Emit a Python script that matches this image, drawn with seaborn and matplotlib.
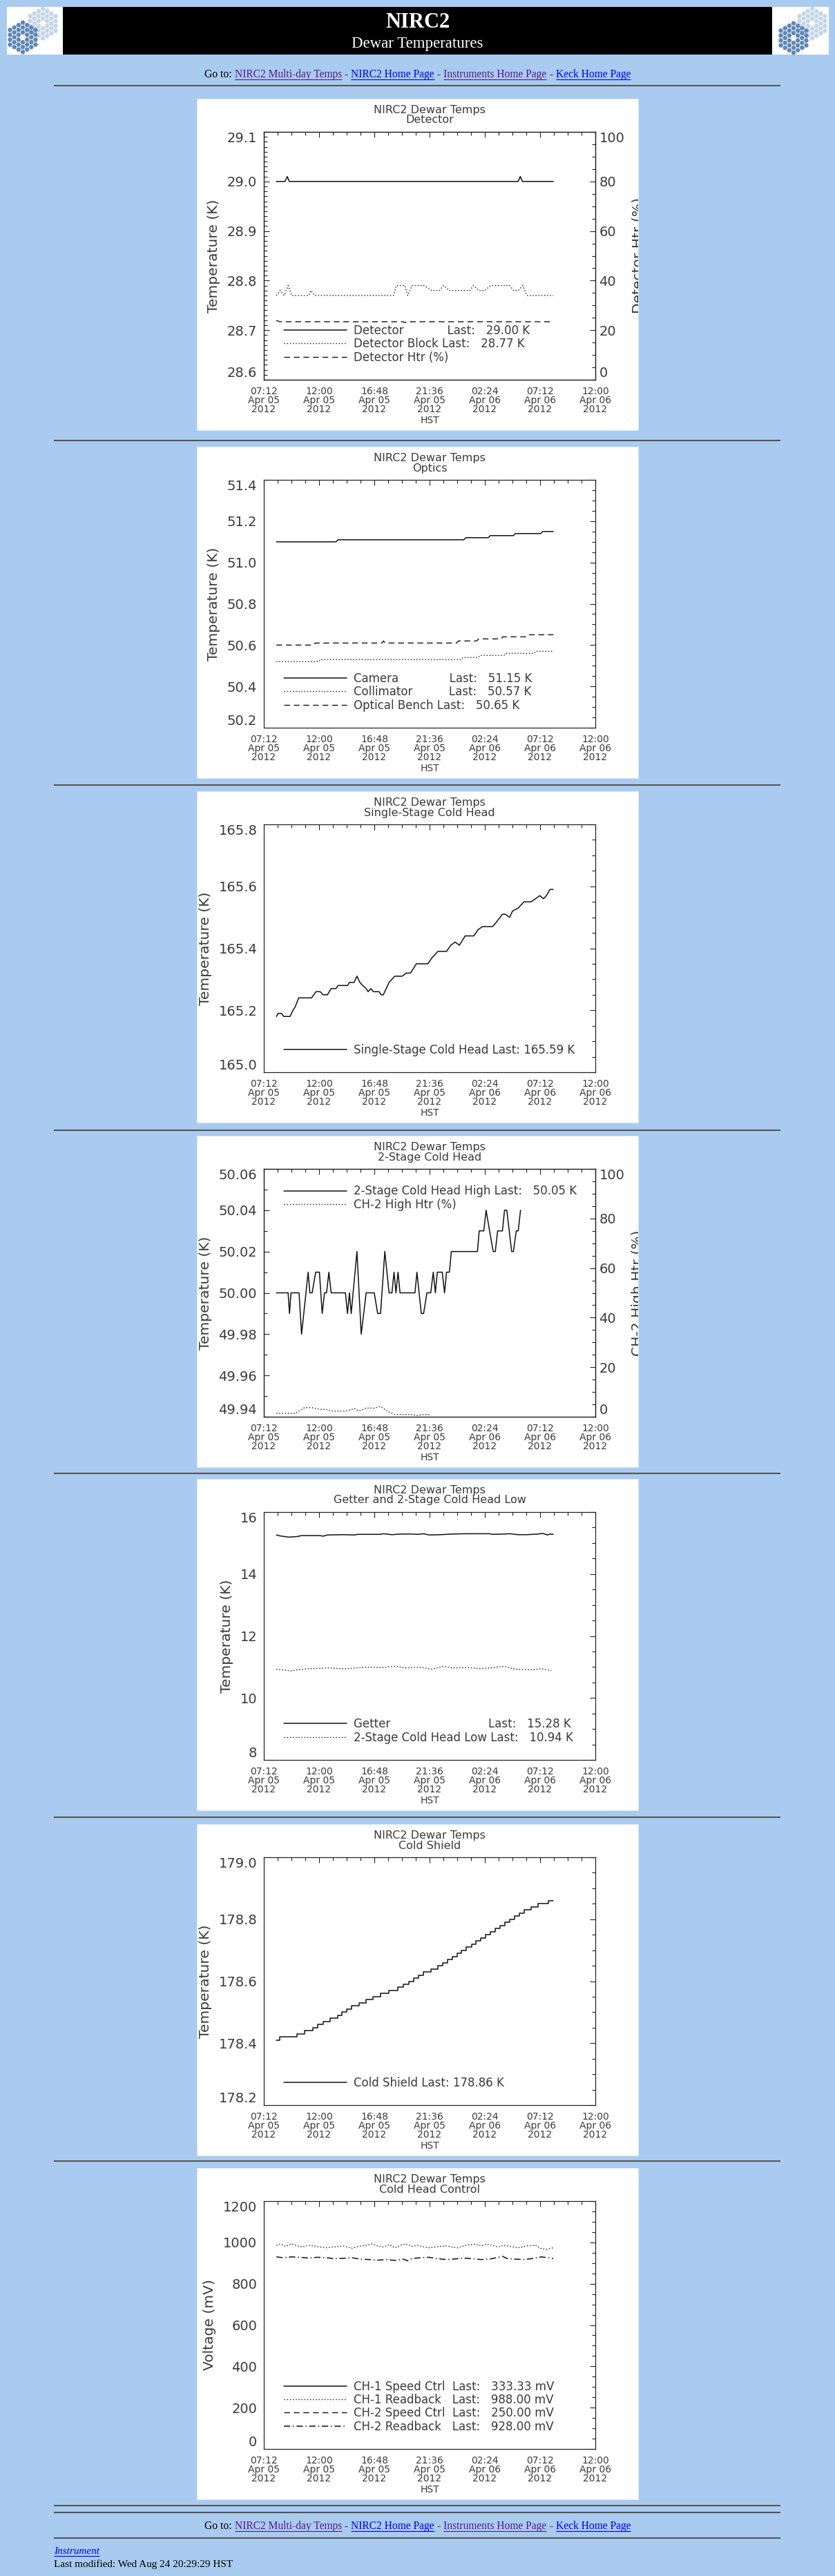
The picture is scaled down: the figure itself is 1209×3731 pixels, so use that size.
import numpy as np
import pandas as pd
import matplotlib
matplotlib.use("Agg")
import matplotlib.pyplot as plt
from matplotlib.ticker import MultipleLocator
from matplotlib.patches import Rectangle, RegularPolygon
from matplotlib.lines import Line2D
from matplotlib.transforms import Bbox, TransformedBbox
import seaborn as sns

# ---------------------------------------------------------------- page / axis definitions
W, H = 1209, 3731
PAGE_BG = "#A9CBEF"
TEXT = "#3a3a3a"
LINE = "#111111"
PURPLE = "#551A8B"
BLUE = "#0000EE"
SERIF = "Liberation Serif"

T0 = pd.Timestamp("2012-04-05 07:12")
X_START = pd.Timestamp("2012-04-05 07:12")
X_END = pd.Timestamp("2012-04-06 12:00")
X_MAJOR = pd.date_range(X_START, X_END, freq="288min")
X_MINOR = pd.date_range(X_START, X_END, freq="72min")
X_TICK_LABELS = ["07:12\nApr 05\n2012", "12:00\nApr 05\n2012", "16:48\nApr 05\n2012",
                 "21:36\nApr 05\n2012", "02:24\nApr 06\n2012", "07:12\nApr 06\n2012",
                 "12:00\nApr 06\n2012"]

# ---------------------------------------------------------------- data (hours after 07:12 Apr 05)
DET_T = [1.09, 1.85, 2.03, 2.21, 22.10, 22.28, 22.46, 25.15]
DET_V = [29.00, 29.00, 29.01, 29.00, 29.00, 29.01, 29.00, 29.00]
BLOCK_T = [1.09, 1.41, 1.78, 2.11, 2.41, 3.90, 4.08, 4.40, 11.26, 11.51, 12.25, 12.50, 12.88,
           13.90, 14.60, 15.25, 15.62, 16.10, 17.90, 18.20, 18.70, 19.20, 19.70, 21.35, 21.70,
           22.10, 22.50, 22.85, 25.15]
BLOCK_V = [28.77, 28.78, 28.77, 28.79, 28.77, 28.77, 28.78, 28.77, 28.77, 28.79, 28.79, 28.77,
           28.79, 28.79, 28.78, 28.78, 28.79, 28.78, 28.78, 28.79, 28.78, 28.78, 28.79, 28.79,
           28.78, 28.78, 28.79, 28.77, 28.77]
DHTR_T = [1.09, 1.40, 1.70, 12.10, 12.25, 12.40, 25.15]
DHTR_V = [23.9, 23.4, 23.4, 23.4, 23.0, 23.4, 23.4]

CAM_T = [1.09, 6.27, 6.45, 17.37, 17.55, 19.49, 19.67, 21.68, 21.86, 24.05, 24.23, 25.15]
CAM_V = [51.10, 51.10, 51.11, 51.11, 51.12, 51.12, 51.13, 51.13, 51.14, 51.14, 51.15, 51.15]
COL_T = [1.09, 4.78, 4.95, 17.12, 17.30, 18.61, 18.78, 20.86, 21.03, 23.47, 23.64, 25.15]
COL_V = [50.52, 50.52, 50.53, 50.53, 50.54, 50.54, 50.55, 50.55, 50.56, 50.56, 50.57, 50.57]
BENCH_T = [1.09, 4.28, 4.45, 10.26, 10.40, 10.55, 16.74, 16.90, 18.49, 18.66, 20.61, 20.78,
           22.73, 22.90, 25.15]
BENCH_V = [50.60, 50.60, 50.61, 50.61, 50.62, 50.61, 50.61, 50.62, 50.62, 50.63, 50.63, 50.64,
           50.64, 50.65, 50.65]

SS_T = [1.09, 1.24, 1.53, 1.73, 2.28, 2.53, 2.71, 3.03, 4.15, 4.53, 4.90, 5.15, 5.52, 5.85, 6.27,
        6.45, 7.27, 7.44, 7.84, 8.09, 8.34, 8.59, 8.89, 9.06, 9.31, 9.51, 10.01, 10.19, 10.38,
        10.63, 10.88, 11.13, 11.38, 12.01, 12.38, 12.75, 13.25, 14.25, 14.62, 15.12, 15.87,
        16.24, 16.62, 16.99, 17.49, 18.24, 18.61, 18.99, 19.86, 20.11, 20.73, 20.98, 21.35,
        21.60, 22.10, 22.60, 23.22, 23.60, 23.97, 24.30, 24.55, 24.85, 25.14]
SS_V = [165.18, 165.19, 165.19, 165.18, 165.18, 165.20, 165.21, 165.24, 165.24, 165.26, 165.26,
        165.25, 165.25, 165.27, 165.27, 165.28, 165.28, 165.29, 165.29, 165.31, 165.29, 165.28,
        165.27, 165.26, 165.27, 165.26, 165.26, 165.25, 165.25, 165.27, 165.29, 165.30, 165.31,
        165.31, 165.32, 165.32, 165.35, 165.35, 165.37, 165.39, 165.39, 165.41, 165.42, 165.41,
        165.44, 165.44, 165.46, 165.47, 165.47, 165.48, 165.51, 165.51, 165.50, 165.52, 165.53,
        165.55, 165.55, 165.56, 165.57, 165.56, 165.57, 165.59, 165.59]

CH2_T = [1.09, 2.11, 2.23, 2.36, 3.06, 3.28, 3.85, 4.00, 4.20, 4.50, 4.83, 5.07, 5.27, 5.45,
         5.65, 5.85, 7.09, 7.27, 7.44, 7.59, 8.09, 8.46, 8.89, 9.59, 9.89, 10.14, 10.51, 10.88,
         11.13, 11.31, 11.48, 11.66, 11.83, 13.13, 13.30, 13.68, 13.88, 14.17, 14.50, 14.72,
         14.90, 15.07, 15.50, 15.70, 15.87, 16.12, 16.29, 18.56, 18.71, 19.11, 19.31, 19.61,
         19.93, 20.11, 20.31, 20.73, 20.91, 21.11, 21.53, 21.68, 21.93, 22.10, 22.30]
CH2_V = [50.00, 50.00, 49.99, 50.00, 50.00, 49.98, 50.01, 50.00, 50.00, 50.01, 50.01, 49.99,
         50.00, 50.00, 50.01, 50.00, 50.00, 49.99, 50.00, 49.99, 50.02, 49.98, 50.00, 50.00,
         49.99, 49.99, 50.02, 50.00, 50.00, 50.01, 50.00, 50.01, 50.00, 50.00, 50.01, 49.99,
         49.99, 50.00, 50.00, 50.01, 50.00, 50.01, 50.01, 50.00, 50.01, 50.01, 50.02, 50.02,
         50.03, 50.03, 50.04, 50.03, 50.02, 50.02, 50.03, 50.03, 50.04, 50.04, 50.02, 50.02,
         50.03, 50.03, 50.04]
CH2HTR_T = [1.09, 2.78, 3.53, 4.15, 4.90, 5.40, 5.90, 7.14, 7.89, 8.27, 8.89, 9.64, 10.09,
            10.88, 11.38, 12.88, 13.25, 13.88, 14.50]
CH2HTR_V = [1.4, 1.4, 3.7, 3.7, 3.0, 3.0, 2.3, 2.3, 3.3, 2.3, 3.5, 3.5, 4.2, 1.9, 0.9, 0.9,
            0.5, 0.9, 0.9]

GET_T = [1.09, 1.41, 2.16, 2.91, 3.28, 4.90, 5.15, 5.52, 6.89, 7.89, 8.14, 10.14, 10.38, 11.13,
         11.88, 12.88, 13.38, 13.88, 14.37, 15.37, 16.37, 17.61, 19.61, 19.86, 20.86, 21.35,
         22.10, 22.85, 23.85, 24.22, 24.65, 24.85, 25.14]
GET_V = [15.26, 15.23, 15.19, 15.21, 15.24, 15.24, 15.22, 15.26, 15.27, 15.26, 15.28, 15.28,
         15.30, 15.27, 15.29, 15.29, 15.28, 15.30, 15.26, 15.27, 15.29, 15.30, 15.30, 15.28,
         15.29, 15.30, 15.27, 15.27, 15.29, 15.31, 15.26, 15.29, 15.28]
LOW_T = [1.09, 2.41, 2.91, 3.90, 5.65, 6.89, 8.89, 10.14, 11.38, 12.38, 13.63, 14.62, 15.62,
         16.37, 17.86, 18.86, 20.86, 21.85, 23.35, 24.10, 24.97]
LOW_V = [10.93, 10.87, 10.91, 10.94, 10.97, 10.94, 10.99, 10.98, 11.02, 10.97, 10.99, 10.93,
         11.02, 10.97, 10.98, 10.94, 11.02, 10.93, 10.91, 10.94, 10.89]

CS_T = [1.09, 1.41, 2.91, 3.53, 4.28, 4.70, 5.15, 5.77, 6.40, 6.77, 7.19, 7.64, 8.27, 8.89, 9.51,
        10.14, 10.88, 11.63, 12.13, 12.63, 13.05, 13.45, 13.88, 14.50, 15.12, 15.55, 15.94,
        16.37, 16.79, 17.19, 17.61, 18.04, 18.44, 18.86, 19.29, 19.68, 20.11, 20.53, 20.93,
        21.35, 21.78, 22.18, 22.60, 23.22, 23.85, 24.72, 25.14]
CS_V = [178.41, 178.42, 178.43, 178.44, 178.45, 178.46, 178.47, 178.48, 178.49, 178.50, 178.51,
        178.52, 178.53, 178.54, 178.55, 178.56, 178.57, 178.58, 178.59, 178.60, 178.61, 178.62,
        178.63, 178.64, 178.65, 178.66, 178.67, 178.68, 178.69, 178.70, 178.71, 178.72, 178.73,
        178.74, 178.75, 178.76, 178.77, 178.78, 178.79, 178.80, 178.81, 178.82, 178.83, 178.84,
        178.85, 178.86, 178.86]

RB1_T = [1.09, 1.41, 1.91, 2.41, 2.91, 3.40, 3.90, 4.65, 5.40, 6.15, 6.89, 7.64, 8.27, 8.89,
         9.39, 9.89, 10.38, 10.88, 11.38, 11.88, 12.38, 12.88, 13.38, 13.88, 14.37, 15.12,
         15.87, 16.37, 16.87, 17.37, 17.86, 18.36, 18.86, 19.36, 19.86, 20.36, 20.86, 21.35,
         22.10, 22.85, 23.60, 24.10, 24.60, 25.14]
RB1_V = [986, 992, 981, 994, 983, 978, 986, 980, 974, 978, 983, 972, 981, 986, 992, 983, 978,
         989, 974, 986, 992, 981, 986, 978, 974, 980, 983, 977, 974, 983, 989, 992, 983, 992,
         986, 978, 986, 981, 974, 983, 986, 970, 967, 974]
RB2_T = [1.09, 1.66, 2.41, 3.16, 3.90, 4.65, 5.40, 6.15, 6.89, 7.64, 8.39, 9.14, 9.89, 10.63,
         11.38, 12.13, 12.50, 12.88, 13.63, 14.37, 15.12, 15.87, 16.62, 17.37, 18.11, 18.86,
         19.61, 20.36, 20.73, 21.11, 21.85, 22.60, 23.35, 24.10, 24.60, 25.14]
RB2_V = [930, 926, 930, 928, 924, 928, 926, 921, 923, 926, 919, 917, 914, 917, 913, 919, 911,
         922, 926, 928, 921, 917, 920, 924, 921, 917, 919, 928, 933, 922, 919, 917, 922, 930,
         926, 922]

P1_YT = [28.6, 28.7, 28.8, 28.9, 29.0, 29.1]
P1_YL = ["28.6", "28.7", "28.8", "28.9", "29.0", "29.1"]
P2_YT = [50.2, 50.4, 50.6, 50.8, 51.0, 51.2, 51.4]
P2_YL = ["50.2", "50.4", "50.6", "50.8", "51.0", "51.2", "51.4"]
P3_YT = [165.0, 165.2, 165.4, 165.6, 165.8]
P3_YL = ["165.0", "165.2", "165.4", "165.6", "165.8"]
P4_YT = [49.94, 49.96, 49.98, 50.00, 50.02, 50.04, 50.06]
P4_YL = ["49.94", "49.96", "49.98", "50.00", "50.02", "50.04", "50.06"]
P5_YT = [8, 10, 12, 14, 16]
P5_YL = ["8", "10", "12", "14", "16"]
P6_YT = [178.2, 178.4, 178.6, 178.8, 179.0]
P6_YL = ["178.2", "178.4", "178.6", "178.8", "179.0"]
P7_YT = [0, 200, 400, 600, 800, 1000, 1200]
P7_YL = ["0", "200", "400", "600", "800", "1000", "1200"]
PCT_YT = [0, 20, 40, 60, 80, 100]
PCT_YL = ["0", "20", "40", "60", "80", "100"]

# ---------------------------------------------------------------- style
sns.set_theme(style="white", rc={
    "axes.edgecolor": "#222222", "axes.linewidth": 0.9,
    "xtick.direction": "in", "ytick.direction": "in",
    "xtick.color": "#222222", "ytick.color": "#222222",
})
plt.rcParams["font.family"] = ["DejaVu Sans"]

LS = {"solid": "-", "dotted": (0, (1.0, 2.0)), "dashed": (0, (6.0, 4.0)),
      "dashdot": (0, (6.0, 2.5, 1.0, 2.5))}
LW = {"solid": 1.1, "dotted": 1.0, "dashed": 1.0, "dashdot": 1.1}

fig = plt.figure(figsize=(W / 100, H / 100), dpi=100, facecolor=PAGE_BG)
bg = fig.add_axes([0, 0, 1, 1], zorder=0)
bg.set_xlim(0, W)
bg.set_ylim(H, 0)
bg.axis("off")

# ---------------------------------------------------------------- header
bg.add_patch(Rectangle((91, 10), 1027, 69, facecolor="black", edgecolor="none", zorder=1))
bg.text(604.5, 33, "NIRC2", ha="center", va="center", color="white", fontsize=22,
        family=SERIF, weight="bold", zorder=3)
bg.text(604.5, 63, "Dewar Temperatures", ha="center", va="center", color="white",
        fontsize=16.5, family=SERIF, zorder=3)

DARK = "#5F87B5"
LIGHT = "#C4D4E9"


def draw_logo(x0, w, centers):
    box = Rectangle((x0, 10), w, 69, facecolor="white", edgecolor="none", zorder=1)
    bg.add_patch(box)
    R = 4.1
    for cx, cy, col in centers:
        for q in range(-3, 4):
            for r in range(-3, 4):
                ring = max(abs(q), abs(r), abs(q + r))
                if ring == 0 or ring > 3:
                    continue
                hx = cx + R * 1.5 * q
                hy = cy + R * np.sqrt(3) * (r + q / 2)
                p = RegularPolygon((hx, hy), 6, radius=R * 0.86, orientation=np.pi / 6,
                                   facecolor=col, edgecolor="none", zorder=2)
                p.set_clip_path(box)
                bg.add_patch(p)


draw_logo(10, 81, [(62, 34, LIGHT), (33, 54, DARK)])
draw_logo(1118, 82, [(1176, 34, LIGHT), (1149, 55, DARK)])

renderer = fig.canvas.get_renderer()


def link_line(y_base, fs=11.2):
    pieces = [("Go to:", "black", False), ("NIRC2 Multi-day Temps", PURPLE, True),
              ("-", "black", False), ("NIRC2 Home Page", BLUE, True), ("-", "black", False),
              ("Instruments Home Page", PURPLE, True), ("-", "black", False),
              ("Keck Home Page", BLUE, True)]
    texts, widths = [], []
    for s, c, u in pieces:
        t = bg.text(0, y_base, s, color=c, fontsize=fs, family=SERIF, ha="left",
                    va="baseline", zorder=3)
        widths.append(t.get_window_extent(renderer=renderer).width)
        texts.append(t)
    gap = fs * 100 / 72 * 0.27
    total = sum(widths) + gap * (len(pieces) - 1)
    x = W / 2 - total / 2
    for t, w, (s, c, u) in zip(texts, widths, pieces):
        t.set_x(x)
        if u:
            bg.plot([x, x + w], [y_base + 2.5, y_base + 2.5], color=c, lw=0.8,
                    solid_capstyle="butt", zorder=3)
        x += w + gap


link_line(112)

for yy in [124, 638, 1137, 1637, 2134, 2632, 3130, 3629, 3639, 3676]:
    bg.plot([78, 1130], [yy, yy], color="#555555", lw=1.5, solid_capstyle="butt", zorder=1)

link_line(3663)
tI = bg.text(78, 3699, "Instrument", color=BLUE, fontsize=11, family=SERIF, style="italic",
             ha="left", va="baseline", zorder=3)
wI = tI.get_window_extent(renderer=renderer).width
bg.plot([78, 78 + wI], [3702, 3702], color=BLUE, lw=0.8, solid_capstyle="butt", zorder=3)
bg.text(78, 3718, "Last modified: Wed Aug 24 20:29:29 HST", color="black", fontsize=11,
        family=SERIF, ha="left", va="baseline", zorder=3)

# ---------------------------------------------------------------- panels
PANEL_TOPS = [143, 647, 1146, 1645, 2142, 2642, 3140]
PANEL_X0, PANEL_X1, PANEL_H = 285, 924, 480
AX_X0, AX_X1, AX_OFF, AX_H = 382, 862, 48, 359


def to_time(hours):
    return T0 + pd.to_timedelta(hours, unit="h")


def plot_series(ax, hours, vals, style, **kw):
    sns.lineplot(x=to_time(hours), y=vals, ax=ax, color=LINE, linewidth=LW[style],
                 linestyle=LS[style], legend=False, **kw)
    return ax.lines[-1]


def style_y(ax, ticks, labels, lim, minor):
    ax.set_ylim(*lim)
    ax.set_yticks(ticks, labels=labels)
    ax.yaxis.set_minor_locator(MultipleLocator(minor))
    tl = ax.get_yticklabels()
    tl[0].set_va("bottom")
    tl[-1].set_va("top")


PANELS = [
    dict(sub="Detector", yt=P1_YT, yl=P1_YL, lim=(28.6, 29.1), minor=0.01, ylabel="Temperature (K)",
         series=[(DET_T, DET_V, "solid", "L", {}), (BLOCK_T, BLOCK_V, "dotted", "L", {}),
                 (DHTR_T, DHTR_V, "dashed", "R", {})],
         labels=["Detector            Last:   29.00 K", "Detector Block Last:   28.77 K",
                 "Detector Htr (%)"],
         right="Detector Htr (%)", loc="lower left"),
    dict(sub="Optics", yt=P2_YT, yl=P2_YL, lim=(50.2, 51.4), minor=0.05, ylabel="Temperature (K)",
         series=[(CAM_T, CAM_V, "solid", "L", {}), (COL_T, COL_V, "dotted", "L", {}),
                 (BENCH_T, BENCH_V, "dashed", "L", {})],
         labels=["Camera              Last:   51.15 K", "Collimator          Last:   50.57 K",
                 "Optical Bench Last:   50.65 K"],
         right=None, loc="lower left"),
    dict(sub="Single-Stage Cold Head", yt=P3_YT, yl=P3_YL, lim=(165.0, 165.8), minor=0.05,
         ylabel="Temperature (K)",
         series=[(SS_T, SS_V, "solid", "L", {})],
         labels=["Single-Stage Cold Head Last: 165.59 K"], right=None, loc="lower left"),
    dict(sub="2-Stage Cold Head", yt=P4_YT, yl=P4_YL, lim=(49.94, 50.06), minor=0.01,
         ylabel="Temperature (K)",
         series=[(CH2_T, CH2_V, "solid", "L", {}), (CH2HTR_T, CH2HTR_V, "dotted", "R", {})],
         labels=["2-Stage Cold Head High Last:   50.05 K", "CH-2 High Htr (%)"],
         right="CH-2 High Htr (%)", loc="upper left"),
    dict(sub="Getter and 2-Stage Cold Head Low", yt=P5_YT, yl=P5_YL, lim=(8, 16), minor=0.5,
         ylabel="Temperature (K)",
         series=[(GET_T, GET_V, "solid", "L", {}), (LOW_T, LOW_V, "dotted", "L", {})],
         labels=["Getter" + " " * 27 + "Last:   15.28 K", "2-Stage Cold Head Low Last:   10.94 K"],
         right=None, loc="lower left"),
    dict(sub="Cold Shield", yt=P6_YT, yl=P6_YL, lim=(178.2, 179.0), minor=0.05,
         ylabel="Temperature (K)",
         series=[(CS_T, CS_V, "solid", "L", {"drawstyle": "steps-post"})],
         labels=["Cold Shield Last: 178.86 K"], right=None, loc="lower left"),
    dict(sub="Cold Head Control", yt=P7_YT, yl=P7_YL, lim=(0, 1200), minor=50,
         ylabel="Voltage (mV)",
         series=[(RB1_T, RB1_V, "dotted", "L", {}), (RB2_T, RB2_V, "dashdot", "L", {})],
         labels=["CH-1 Speed Ctrl  Last:   333.33 mV", "CH-1 Readback   Last:   988.00 mV",
                 "CH-2 Speed Ctrl  Last:   250.00 mV", "CH-2 Readback   Last:   928.00 mV"],
         right=None, loc="lower left"),
]

for i, p in enumerate(PANELS):
    top = PANEL_TOPS[i]
    bg.add_patch(Rectangle((PANEL_X0, top), PANEL_X1 - PANEL_X0, PANEL_H, facecolor="white",
                           edgecolor="#dfe8f2", lw=0.6, zorder=1))
    ax_top = top + AX_OFF
    rect = [AX_X0 / W, 1 - (ax_top + AX_H) / H, (AX_X1 - AX_X0) / W, AX_H / H]
    ax = fig.add_axes(rect, zorder=2)
    ax.set_facecolor("white")
    ax2 = None
    if p["right"]:
        ax2 = ax.twinx()
        ax2.set_zorder(3)
        ax2.patch.set_visible(False)

    handles = []
    for (tt, vv, st, side, kw) in p["series"]:
        target = ax2 if side == "R" else ax
        handles.append(plot_series(target, tt, vv, st, **kw))

    if i == 6:
        # the speed-control channels have no plotted samples, only legend entries
        h_s1 = Line2D([], [], color=LINE, lw=LW["solid"], linestyle=LS["solid"])
        h_s2 = Line2D([], [], color=LINE, lw=LW["dashed"], linestyle=LS["dashed"])
        handles = [h_s1, handles[0], h_s2, handles[1]]

    ax.set_xlim(X_START, X_END)
    ax.set_xticks(X_MAJOR, labels=X_TICK_LABELS, fontsize=10, linespacing=0.9, color=TEXT)
    ax.set_xticks(X_MINOR, minor=True)
    ax.set_xlim(X_START, X_END)
    ax.set_xlabel("HST", fontsize=10, color=TEXT, labelpad=2)

    style_y(ax, p["yt"], p["yl"], p["lim"], p["minor"])
    ax.set_ylabel(p["ylabel"], fontsize=14.6, color=TEXT, labelpad=7)
    ax.tick_params(axis="both", which="both", direction="in", top=True,
                   right=(ax2 is None), width=0.8)
    ax.tick_params(which="major", length=5.5)
    ax.tick_params(which="minor", length=3.5)
    ax.tick_params(axis="y", labelsize=14, labelcolor=TEXT, pad=7)
    ax.tick_params(axis="x", pad=7)

    if ax2 is not None:
        style_y(ax2, PCT_YT, PCT_YL, (0, 100), 5)
        ax2.tick_params(axis="y", which="both", direction="in", right=True, width=0.8,
                        labelsize=14, labelcolor=TEXT, pad=4)
        ax2.tick_params(which="major", length=5.5)
        ax2.tick_params(which="minor", length=3.5)
        ax2.set_ylabel(p["right"], fontsize=14.6, color=TEXT, labelpad=7)
        lab = ax2.yaxis.label
        lab.set_clip_box(TransformedBbox(
            Bbox.from_extents(PANEL_X0, top + PANEL_H, PANEL_X1, top), bg.transData))
        lab.set_clip_on(True)
        ax2.set_xlim(X_START, X_END)

    ax.set_title("NIRC2 Dewar Temps\n" + p["sub"], fontsize=11.5, color=TEXT, pad=9,
                 linespacing=0.92)

    anchor = (0.06, 0.065) if p["loc"] == "lower left" else (0.06, 0.935)
    leg = ax.legend(handles, p["labels"], loc=p["loc"], bbox_to_anchor=anchor, frameon=False,
                    fontsize=12, handlelength=5.45, handletextpad=0.64, labelspacing=0.08,
                    borderpad=0, borderaxespad=0)
    for t in leg.get_texts():
        t.set_color(TEXT)

fig.savefig("out.png", dpi=100, facecolor=PAGE_BG)
